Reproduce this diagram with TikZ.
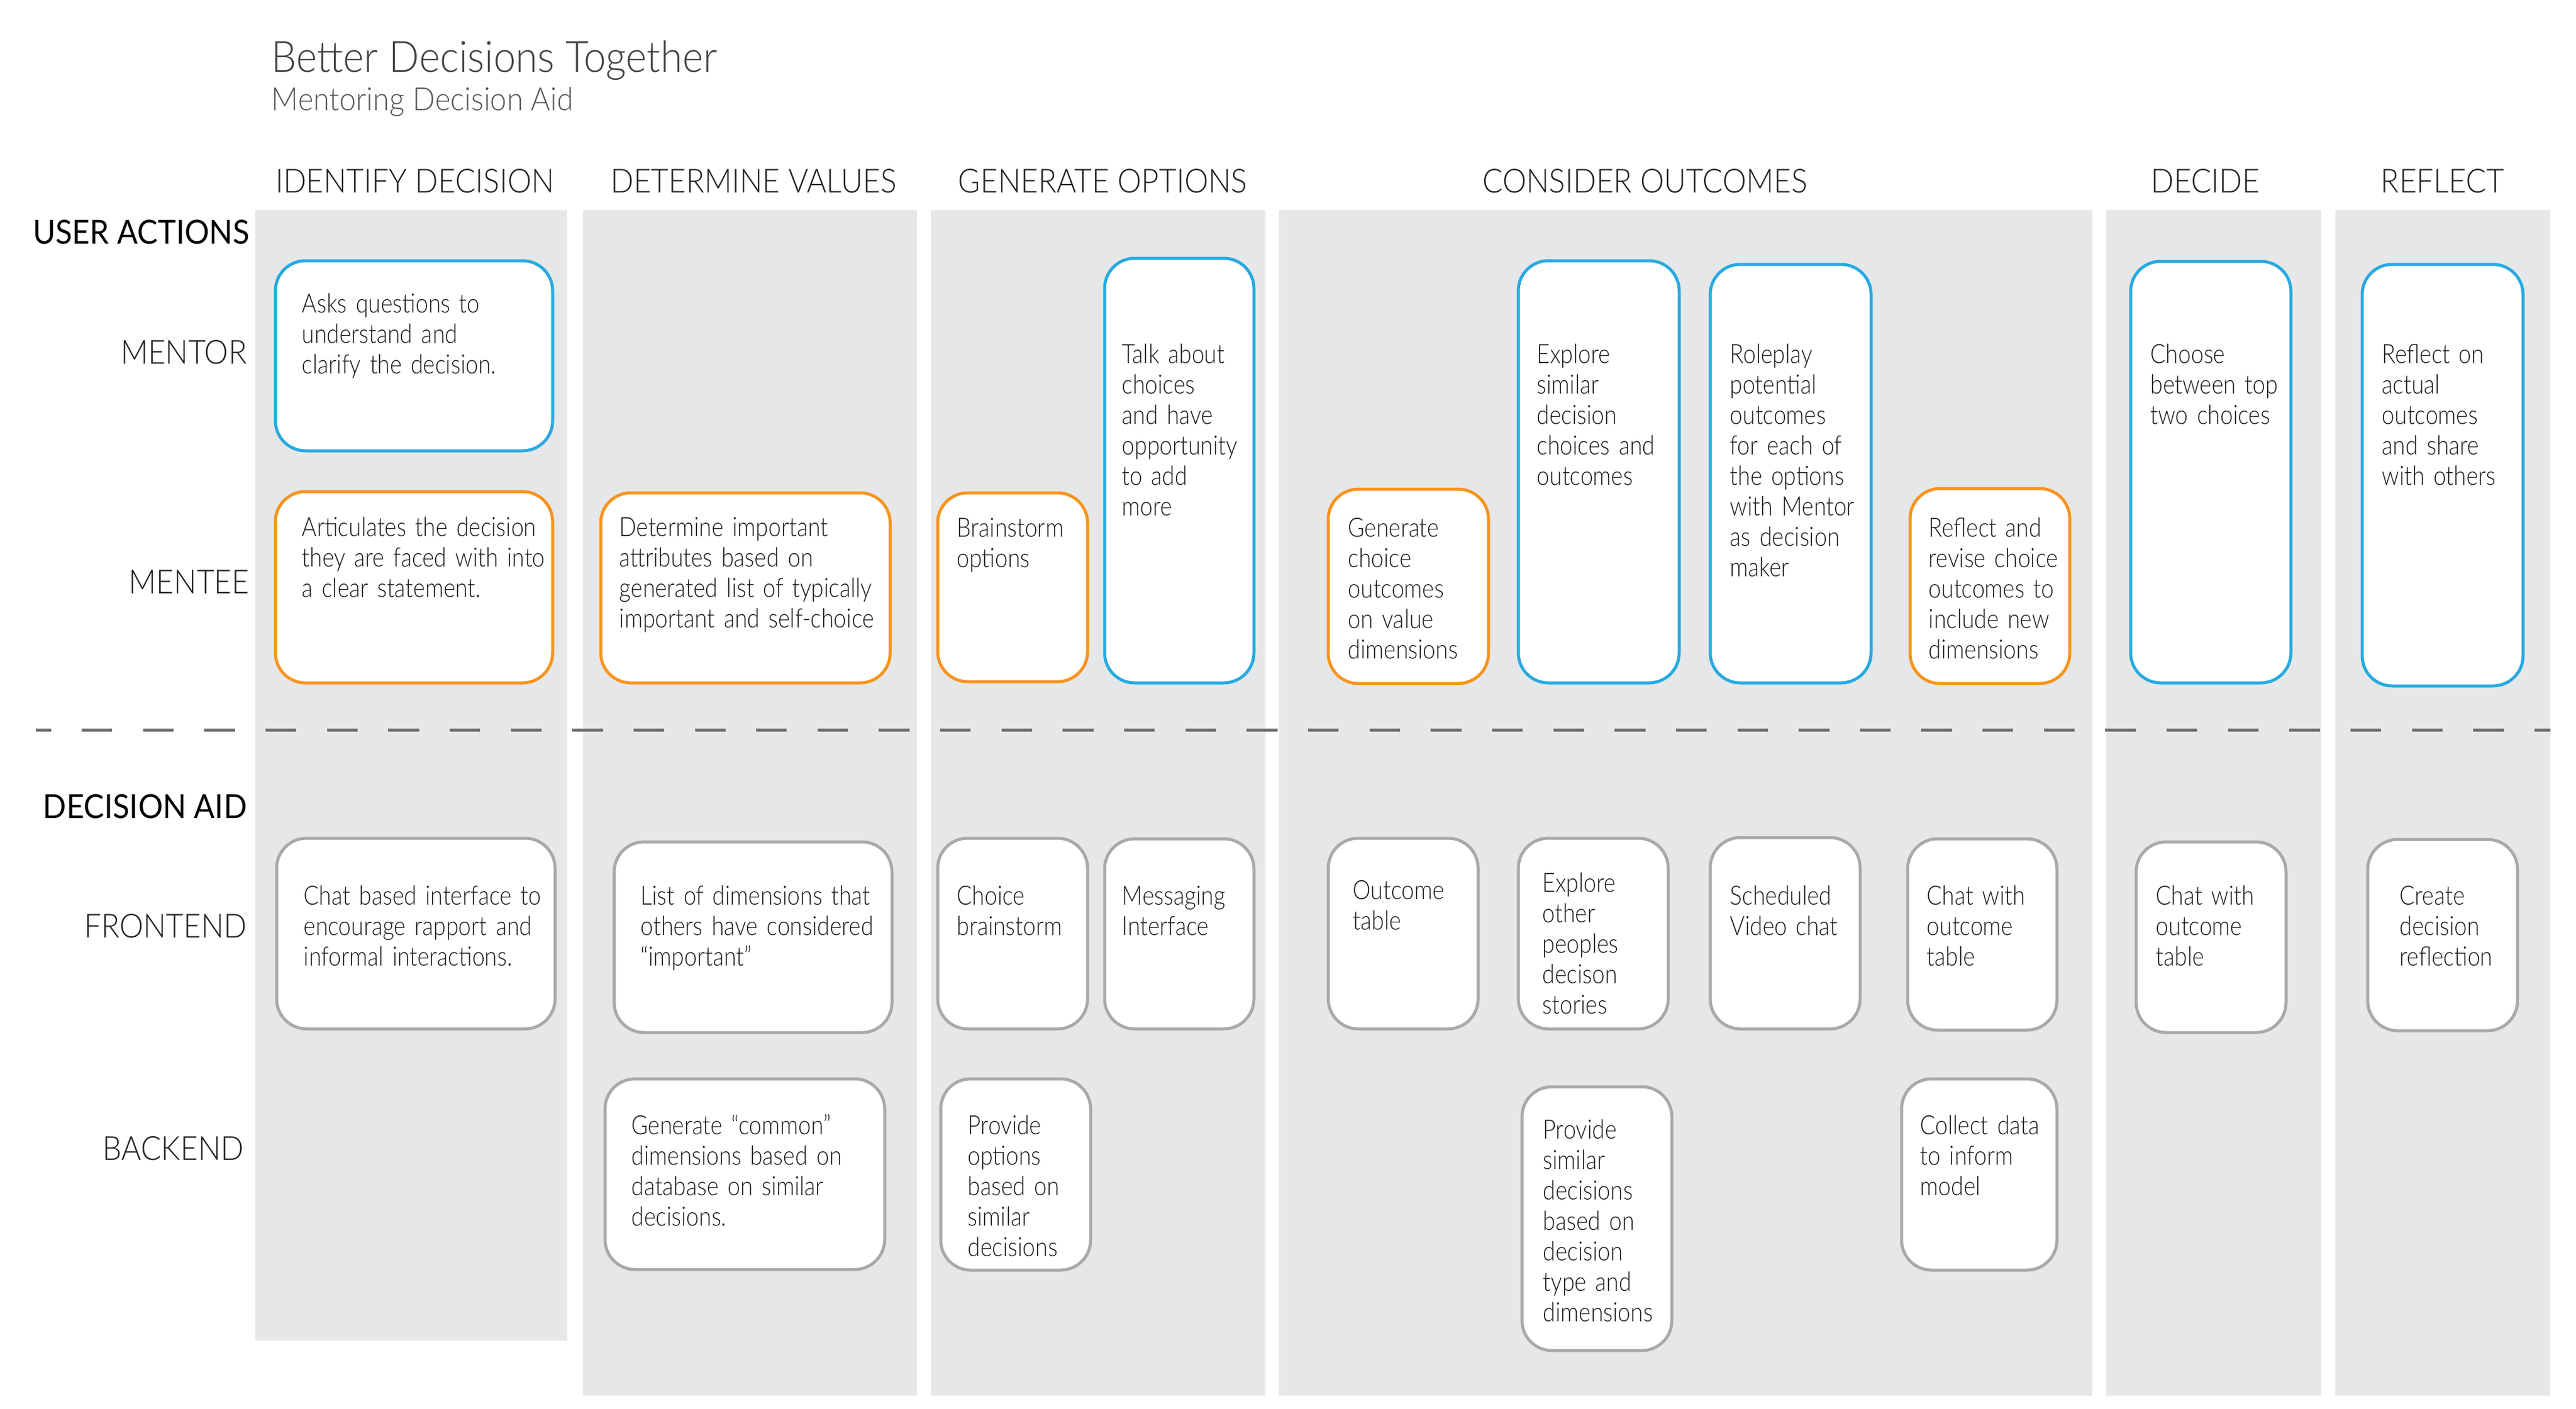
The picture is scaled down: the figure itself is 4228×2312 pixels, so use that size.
\documentclass[tikz,border=0pt]{standalone}
\usepackage{fontspec}
\IfFontExistsTF{Lato Light}{%
  \newfontfamily\bodyfont{Lato Light}[FakeStretch=0.855]
  \newfontfamily\headfont{Lato Light}[FakeStretch=0.91]
  \newfontfamily\titlefont{Lato Light}[FakeStretch=0.922]
  \newfontfamily\regfont{Lato}[FakeStretch=0.925]
}{%
  \newfontfamily\bodyfont{Carlito}[FakeStretch=0.85]
  \newfontfamily\headfont{Carlito}[FakeStretch=0.9]
  \newfontfamily\titlefont{Carlito}[FakeStretch=0.92]
  \newfontfamily\regfont{Carlito}[FakeStretch=0.93]
}
\usetikzlibrary{fit}
\definecolor{lanefill}{HTML}{E6E7E8}
\definecolor{bluec}{HTML}{27AAE1}
\definecolor{orangec}{HTML}{F7941D}
\definecolor{grayb}{HTML}{A7A9AC}
\definecolor{dashc}{HTML}{6D6E71}
\definecolor{txt}{HTML}{231F20}
\definecolor{titlec}{HTML}{414042}
\definecolor{subc}{HTML}{58595B}
\tikzset{
  lane/.style={fill=lanefill, draw=none, inner sep=0pt},
  card/.style={fill=white, line width=1.42pt, rounded corners=14pt, inner sep=0pt},
  mentorbox/.style={card, draw=bluec},
  menteebox/.style={card, draw=orangec},
  aidbox/.style={card, draw=grayb},
  boxtext/.style={anchor=base west, inner sep=0pt, text width=6cm, align=left,
    font=\bodyfont\fontsize{12.4}{14.23}\selectfont, text=txt},
  header/.style={anchor=base, inner sep=0pt, font=\headfont\fontsize{15.5}{20}\selectfont, text=txt},
  rowlab/.style={anchor=base east, inner sep=0pt, font=\headfont\fontsize{15.5}{20}\selectfont, text=txt},
  rowhead/.style={anchor=base east, inner sep=0pt, font=\regfont\fontsize{15.5}{20}\selectfont, text=black},
}
\begin{document}
\begin{tikzpicture}[x=0.01cm, y=-0.01cm]
\useasboundingbox[fill=white] (0,0) rectangle (4228,2312);
% lanes
\node[lane, fit={(419,345) (931,2201)}] (lane1) {};
\node[lane, fit={(957,345) (1505,2291)}] (lane2) {};
\node[lane, fit={(1528,345) (2077,2291)}] (lane3) {};
\node[lane, fit={(2099,345) (3434,2291)}] (lane4) {};
\node[lane, fit={(3457,345) (3810,2291)}] (lane5) {};
\node[lane, fit={(3833,345) (4186,2291)}] (lane6) {};
% title
\node[anchor=base west, inner sep=0pt, font=\titlefont\fontsize{20.2}{26}\selectfont, text=titlec] (title) at (445,119) {Better Decisions Together};
\node[anchor=base west, inner sep=0pt, font=\titlefont\fontsize{15}{20}\selectfont, text=subc] (subtitle) at (445,182) {Mentoring Decision Aid};
% column headers
\node[header] (h1) at (681,316) {IDENTIFY DECISION};
\node[header] (h2) at (1237,316) {DETERMINE VALUES};
\node[header] (h3) at (1810,316) {GENERATE OPTIONS};
\node[header] (h4) at (2700,316) {CONSIDER OUTCOMES};
\node[header] (h5) at (3620,316) {DECIDE};
\node[header] (h6) at (4009,316) {REFLECT};
% row labels
\node[rowhead] (ua) at (410,400) {USER ACTIONS};
\node[rowlab] (mentor) at (406,597) {MENTOR};
\node[rowlab] (mentee) at (410,974) {MENTEE};
\node[rowhead] (da) at (406,1343) {DECISION AID};
\node[rowlab] (frontend) at (406,1539) {FRONTEND};
\node[rowlab] (backend) at (401,1904) {BACKEND};
% dashed separator
\coordinate (dl) at (59,1198);
\coordinate (dr) at (4186,1198);
\draw[dashc, line width=1.42pt, dash pattern=on 14.31pt off 14.31pt, dash phase=7.28pt] (dl) -- (dr);
% mentor boxes
\node[mentorbox, fit={(452,428) (907,740)}] (m1) {};
\node[boxtext] (m1t) at (495,513) {Asks questions to\\understand and\\clarify the decision.};
\node[mentorbox, fit={(1813,424) (2058,1121)}] (m3) {};
\node[boxtext] (m3t) at (1841,596) {Talk about\\choices\\and have\\opportunity\\to add\\more};
\node[mentorbox, fit={(2492,428) (2756,1121)}] (m4a) {};
\node[boxtext] (m4at) at (2522,596) {Explore\\similar\\decision\\choices and\\outcomes};
\node[mentorbox, fit={(2807,434) (3071,1121)}] (m4b) {};
\node[boxtext] (m4bt) at (2839,596) {Roleplay\\potential\\outcomes\\for each of\\the options\\with Mentor\\as decision\\maker};
\node[mentorbox, fit={(3497,429) (3760,1121)}] (m5) {};
\node[boxtext] (m5t) at (3529,596) {Choose\\between top\\two choices};
\node[mentorbox, fit={(3877,434) (4141,1126)}] (m6) {};
\node[boxtext] (m6t) at (3909,596) {Reflect on\\actual\\outcomes\\and share\\with others};
% mentee boxes
\node[menteebox, fit={(452,807) (907,1121)}] (e1) {};
\node[boxtext] (e1t) at (495,880) {Articulates the decision\\they are faced with into\\a clear statement.};
\node[menteebox, fit={(986,809) (1461,1121)}] (e2) {};
\node[boxtext] (e2t) at (1016,880) {Determine important\\attributes based on\\generated list of typically\\important and self-choice};
\node[menteebox, fit={(1539,809) (1785,1119)}] (e3) {};
\node[boxtext] (e3t) at (1570,881) {Brainstorm\\options};
\node[menteebox, fit={(2180,803) (2443,1122)}] (e4a) {};
\node[boxtext] (e4at) at (2212,881) {Generate\\choice\\outcomes\\on value\\dimensions};
\node[menteebox, fit={(3135,802) (3397,1122)}] (e4b) {};
\node[boxtext] (e4bt) at (3165,881) {Reflect and\\revise choice\\outcomes to\\include new\\dimensions};
% frontend boxes
\node[aidbox, fit={(454,1376) (911,1689)}] (f1) {};
\node[boxtext] (f1t) at (498,1485) {Chat based interface to\\encourage rapport and\\informal interactions.};
\node[aidbox, fit={(1008,1382) (1464,1695)}] (f2) {};
\node[boxtext] (f2t) at (1051,1485) {List of dimensions that\\others have considered\\“important”};
\node[aidbox, fit={(1539,1376) (1785,1689)}] (f3a) {};
\node[boxtext] (f3at) at (1570,1485) {Choice\\brainstorm};
\node[aidbox, fit={(1813,1377) (2058,1689)}] (f3b) {};
\node[boxtext] (f3bt) at (1841,1485) {Messaging\\Interface};
\node[aidbox, fit={(2180,1376) (2426,1689)}] (f4a) {};
\node[boxtext] (f4at) at (2220,1476) {Outcome\\table};
\node[aidbox, fit={(2492,1376) (2738,1689)}] (f4b) {};
\node[boxtext] (f4bt) at (2531,1464) {Explore\\other\\peoples\\decison\\stories};
\node[aidbox, fit={(2807,1375) (3053,1689)}] (f4c) {};
\node[boxtext] (f4ct) at (2839,1485) {Scheduled\\Video chat};
\node[aidbox, fit={(3131,1377) (3376,1691)}] (f4d) {};
\node[boxtext] (f4dt) at (3162,1485) {Chat with\\outcome\\table};
\node[aidbox, fit={(3506,1382) (3752,1695)}] (f5) {};
\node[boxtext] (f5t) at (3538,1485) {Chat with\\outcome\\table};
\node[aidbox, fit={(3886,1378) (4132,1692)}] (f6) {};
\node[boxtext] (f6t) at (3938,1485) {Create\\decision\\reflection};
% backend boxes
\node[aidbox, fit={(993,1771) (1452,2084)}] (b2) {};
\node[boxtext] (b2t) at (1036,1862) {Generate “common”\\dimensions based on\\database on similar\\decisions.};
\node[aidbox, fit={(1544,1771) (1790,2085)}] (b3) {};
\node[boxtext] (b3t) at (1588,1862) {Provide\\options\\based on\\similar\\decisions};
\node[aidbox, fit={(2498,1784) (2744,2217)}] (b4a) {};
\node[boxtext] (b4at) at (2532,1869) {Provide\\similar\\decisions\\based on\\decision\\type and\\dimensions};
\node[aidbox, fit={(3121,1771) (3376,2085)}] (b4b) {};
\node[boxtext] (b4bt) at (3151,1862) {Collect data\\to inform\\model};
\end{tikzpicture}
\end{document}
